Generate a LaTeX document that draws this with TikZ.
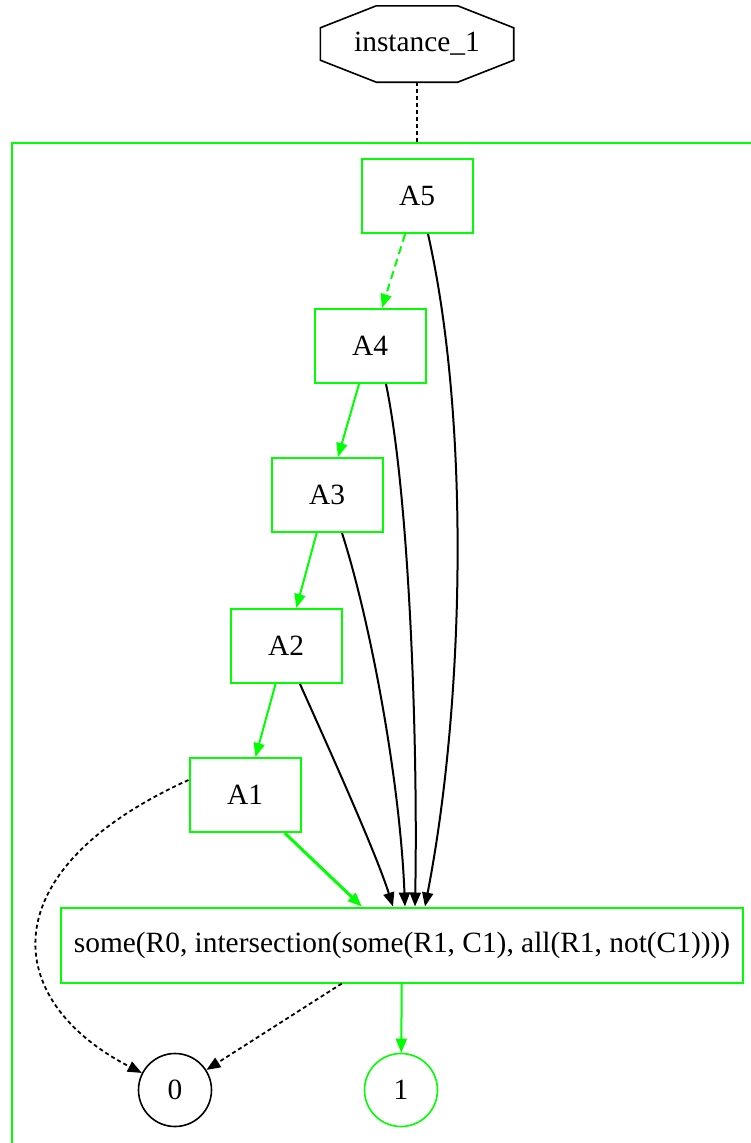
\documentclass[tikz,border=0pt]{standalone}
\usepackage{fontspec}
\setmainfont{Liberation Serif}
\usetikzlibrary{arrows.meta,calc}
\definecolor{clgreen}{RGB}{0,255,0}
\tikzset{
  conc/.style ={draw=clgreen, line width=2bp, minimum width=111bp, minimum height=74bp, inner sep=0pt},
  expr/.style ={draw=clgreen, line width=2bp, minimum width=681bp, minimum height=75bp, inner sep=0pt},
  term/.style ={draw, circle, line width=1.6bp, minimum size=73bp, inner sep=0pt},
  edge/.style ={-{Triangle[length=14bp,width=11bp]}, line width=2bp},
  isa/.style  ={edge, color=clgreen},
  dots/.style ={dash pattern=on 4bp off 3bp, line width=1.8bp}
}

\begin{document}
\begin{tikzpicture}[x=1bp, y=-1bp, font=\fontsize{29.5}{33}\selectfont]
  \useasboundingbox (0,0) rectangle (751,1143);
  % root and the cluster frame
  \node[minimum width=193bp, minimum height=76bp, inner sep=0pt] (inst) at (417,44) {instance\_1};
  \draw[line width=1.6bp] ($(inst.north west)+(56,0)$) -- ($(inst.north east)+(-56,0)$)
    -- ($(inst.north east)+(0,22)$) -- ($(inst.south east)+(0,-22)$)
    -- ($(inst.south east)+(-56,0)$) -- ($(inst.south west)+(56,0)$)
    -- ($(inst.south west)+(0,-22)$) -- ($(inst.north west)+(0,22)$) -- cycle;
  \coordinate (cltop) at (417,143);
  \draw[clgreen, line width=2bp] (751,143) -| (12,1143);
  \draw[dots] (inst) -- (cltop);

  % concept chain
  \node[conc] (a5) at (417,196) {A5};
  \node[conc] (a4) at (370,346) {A4};
  \node[conc] (a3) at (327,495) {A3};
  \node[conc] (a2) at (286,646) {A2};
  \node[conc] (a1) at (245,795) {A1};
  \node[expr] (big) at (402,945) {some(R0, intersection(some(R1, C1), all(R1, not(C1))))};
  \node[term] (zero) at (175,1090) {0};
  \node[term, draw=clgreen] (one) at (401,1090) {1};

  \draw[isa, dash pattern=on 8bp off 5bp] (a5) -- (a4);
  \draw[isa] (a4) -- (a3);
  \draw[isa] (a3) -- (a2);
  \draw[isa] (a2) -- (a1);
  \draw[isa, line width=3bp] (a1) -- (big);
  \draw[isa] (big) -- (one);

  \draw[edge] ([xshift=11bp]a5.south) .. controls (470,420) and (465,700) .. ([xshift=23bp]big.north);
  \draw[edge] ([xshift=16bp]a4.south) .. controls (410,500) and (418,750) .. ([xshift=13bp]big.north);
  \draw[edge] ([xshift=15bp]a3.south) .. controls (370,620) and (400,780) .. ([xshift=3bp]big.north);
  \draw[edge] ([xshift=14bp]a2.south) .. controls (325,740) and (375,850) .. ([xshift=-9bp]big.north);

  \draw[edge, dots] ([yshift=15bp]a1.west) .. controls (-10,870) and (0,1000) .. (zero);
  \draw[edge, dots] (big) -- (zero);
\end{tikzpicture}
\end{document}
